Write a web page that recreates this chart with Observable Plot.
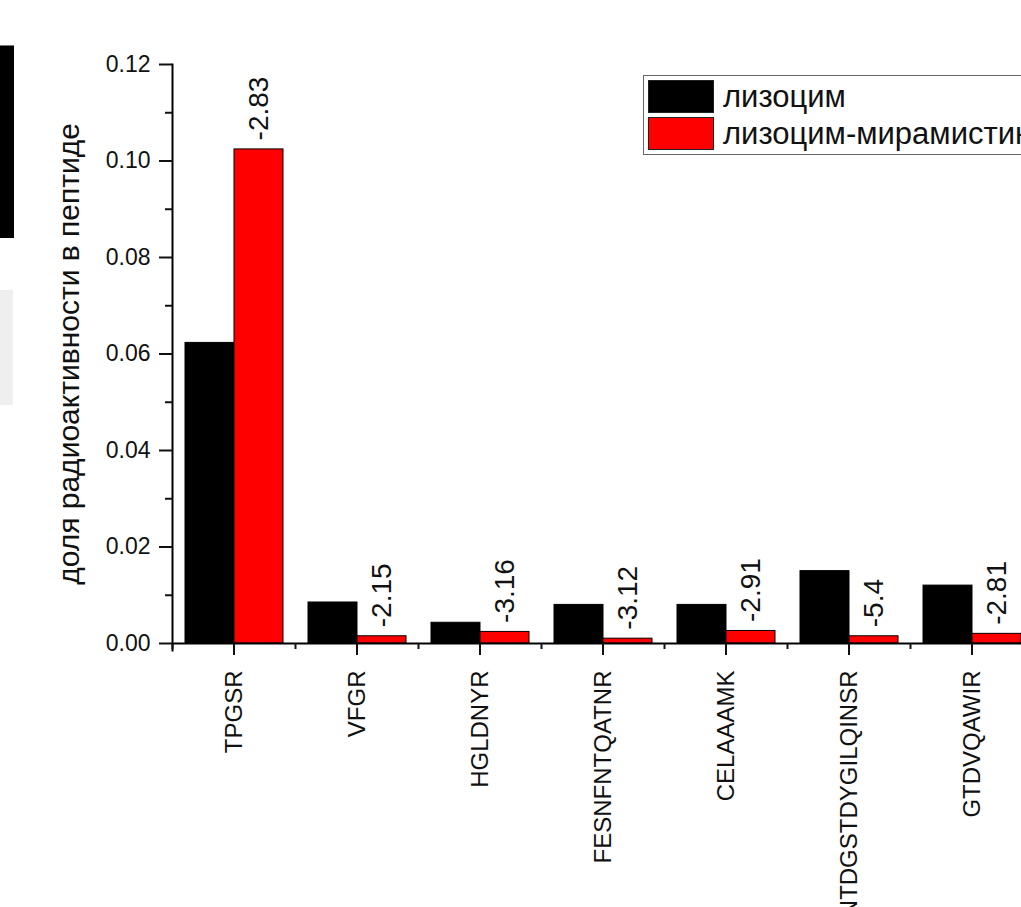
<!DOCTYPE html>
<html>
<head>
<meta charset="utf-8">
<script src="https://cdn.jsdelivr.net/npm/d3@7"></script>
<script src="https://cdn.jsdelivr.net/npm/@observablehq/plot@0.6"></script>
<style>
  body { margin: 0; background: #fff; }
  #wrap { position: relative; width: 1021px; height: 907px; overflow: hidden; font-family: "Liberation Sans", Arial, sans-serif; background: #fff; }
  #chart { position: absolute; left: 0; top: 0; width: 1033px; }
  .deco1 { position: absolute; left: 0; top: 45px; width: 14px; height: 192px; background: #000; border-top: 1px solid #777; }
  .deco2 { position: absolute; left: 0; top: 290px; width: 13px; height: 115px; background: #efefef; }
  #legend { position: absolute; left: 643px; top: 75px; width: 440px; height: 78px; border: 1.5px solid #666; background: #fff; }
  .item { position: absolute; left: 4px; height: 34px; width: 440px; }
  .sw { position: absolute; left: 0; top: 0; width: 66px; height: 33px; box-sizing: border-box; border: 1px solid #222; }
  .lab { position: absolute; left: 75px; top: 0px; font-size: 31px; line-height: 34px; color: #111; white-space: nowrap; }
</style>
</head>
<body>
<div id="wrap">
  <div id="chart"></div>
  <div class="deco1"></div>
  <div class="deco2"></div>
  <div id="legend"></div>
</div>
<script>
const categories = ["TPGSR", "VFGR", "HGLDNYR", "FESNFNTQATNR", "CELAAAMK", "NTDGSTDYGILQINSR", "GTDVQAWIR"];
const seriesNames = ["лизоцим", "лизоцим-мирамистин"];
const seriesColors = ["#000000", "#ff0000"];
const lysozyme = [0.0623, 0.0085, 0.0043, 0.0080, 0.0080, 0.0150, 0.0120];
const lysozymeMiramistin = [0.1024, 0.0015, 0.0024, 0.0010, 0.0026, 0.0015, 0.0020];
const ratioLabels = ["-2.83", "-2.15", "-3.16", "-3.12", "-2.91", "-5.4", "-2.81"];
const yTicks = [0, 0.02, 0.04, 0.06, 0.08, 0.10, 0.12];
const yMinorTicks = [0.01, 0.03, 0.05, 0.07, 0.09, 0.11];
const yLabel = "доля радиоактивности в пептиде";

const rows = [];
categories.forEach((c, i) => {
  rows.push({cat: c, series: seriesNames[0], value: lysozyme[i]});
  rows.push({cat: c, series: seriesNames[1], value: lysozymeMiramistin[i]});
});
const labelRows = categories.map((c, i) => ({cat: c, series: seriesNames[1], value: lysozymeMiramistin[i], label: ratioLabels[i]}));

const W = 1033, H = 907, ML = 172, MR = 0, MT = 64, MB = 264;
const step = (W - ML - MR) / categories.length;

const chart = Plot.plot({
  width: W, height: H,
  marginLeft: ML, marginRight: MR, marginTop: MT, marginBottom: MB,
  style: {fontFamily: "'Liberation Sans', Arial, sans-serif", color: "#111", background: "transparent", overflow: "visible", maxWidth: "none"},
  fx: {domain: categories, padding: 0, label: null},
  x: {domain: seriesNames, paddingInner: 0, paddingOuter: 0.255, axis: null},
  y: {domain: [0, 0.12], axis: null},
  color: {domain: seriesNames, range: seriesColors},
  marks: [
    Plot.barY(rows, {fx: "cat", x: "series", y: "value", fill: "series", stroke: "#000", strokeWidth: 1}),
    Plot.text(labelRows, {fx: "cat", x: "series", y: "value", text: "label", rotate: -90, textAnchor: "start", lineAnchor: "middle", dy: -9, fontSize: 28, fill: "#111"}),
    Plot.ruleY([0], {stroke: "#000", strokeWidth: 2}),
    Plot.frame({anchor: "left", facetAnchor: "left", stroke: "#000", strokeWidth: 2, insetBottom: -7}),
    Plot.axisY({ticks: yTicks, tickSize: 13, tickPadding: 9, tickFormat: d3.format(".2f"), fontSize: 23, strokeWidth: 2,
      label: yLabel, labelAnchor: "center", labelOffset: 115, labelArrow: "none"}),
    Plot.axisY({ticks: yMinorTicks, tickSize: 7, tickFormat: () => "", strokeWidth: 2, label: null}),
    Plot.axisFx({anchor: "bottom", tickSize: 12, tickPadding: 15, tickRotate: -90, fontSize: 24, strokeWidth: 2, label: null}),
    Plot.axisFx({anchor: "bottom", tickSize: 6, tickFormat: () => "", dx: -step / 2, strokeWidth: 2, label: null})
  ]
});
document.getElementById("chart").appendChild(chart);

// y-axis title font size
chart.querySelectorAll("text").forEach(t => {
  if (t.textContent === yLabel) t.setAttribute("font-size", 30);
});

const legend = document.getElementById("legend");
seriesNames.forEach((name, i) => {
  const item = document.createElement("div");
  item.className = "item";
  item.style.top = (4 + i * 37) + "px";
  const sw = document.createElement("div");
  sw.className = "sw";
  sw.style.background = seriesColors[i];
  const lab = document.createElement("div");
  lab.className = "lab";
  lab.textContent = name;
  item.appendChild(sw);
  item.appendChild(lab);
  legend.appendChild(item);
});
</script>
</body>
</html>
